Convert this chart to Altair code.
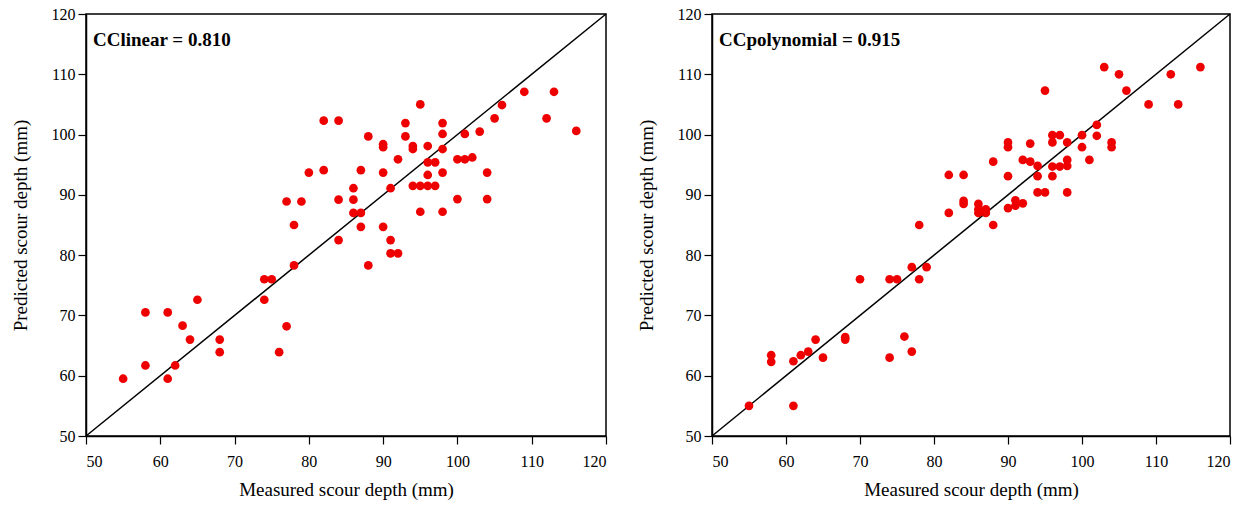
import altair as alt
import pandas as pd

# Left panel: linear model
lin_measured = [55, 58, 58, 61, 61, 62, 63, 64, 65, 68, 68, 74, 74, 75, 76, 77, 77, 78, 78, 79,
                80, 82, 82, 84, 84, 84, 86, 86, 86, 87, 87, 87, 88, 88, 90, 90, 90, 90, 91, 91,
                91, 92, 92, 93, 93, 94, 94, 94, 95, 95, 95, 96, 96, 96, 96, 97, 97, 98, 98, 98,
                98, 98, 100, 100, 101, 101, 102, 103, 104, 104, 105, 106, 109, 112, 113, 116]
lin_predicted = [59.5, 70.5, 61.7, 70.5, 59.5, 61.7, 68.3, 66.0, 72.6, 66.0, 63.9, 72.6, 76.0, 76.0, 63.9, 68.2, 88.9, 85.0, 78.3, 88.9,
                 93.7, 102.3, 94.1, 102.3, 89.2, 82.5, 91.1, 89.2, 87.0, 87.0, 94.1, 84.7, 99.7, 78.3, 98.4, 97.9, 93.7, 84.7, 91.1, 82.5,
                 80.3, 80.3, 95.9, 101.9, 99.7, 98.1, 97.6, 91.5, 105.0, 91.5, 87.2, 98.1, 95.4, 93.3, 91.5, 95.4, 91.5, 101.9, 100.1, 97.6,
                 93.7, 87.2, 95.9, 89.3, 100.1, 95.9, 96.2, 100.5, 93.7, 89.3, 102.7, 104.9, 107.1, 102.7, 107.1, 100.6]

# Right panel: polynomial model
poly_measured = [55, 58, 58, 61, 61, 62, 63, 64, 65, 68, 68, 70, 74, 74, 75, 76, 77, 77, 78, 78,
                 79, 82, 82, 84, 84, 84, 86, 86, 86, 87, 87, 88, 88, 90, 90, 90, 90, 91, 91, 92,
                 92, 93, 93, 94, 94, 94, 95, 95, 96, 96, 96, 96, 97, 97, 98, 98, 98, 98, 100, 100,
                 101, 102, 102, 103, 104, 104, 105, 106, 109, 112, 113, 116]
poly_predicted = [55.0, 63.4, 62.3, 55.0, 62.4, 63.4, 64.0, 66.0, 63.0, 66.4, 66.0, 76.0, 76.0, 63.0, 76.0, 66.5, 64.0, 78.0, 76.0, 85.0,
                  78.0, 93.3, 87.0, 93.3, 89.0, 88.5, 88.5, 87.6, 87.0, 87.6, 87.0, 95.5, 85.0, 98.7, 97.9, 93.1, 87.8, 89.1, 88.2, 88.6,
                  95.8, 95.5, 98.5, 94.8, 93.1, 90.4, 90.4, 107.3, 99.9, 98.7, 94.7, 93.1, 99.9, 94.7, 98.7, 95.8, 94.8, 90.4, 99.9, 97.9,
                  95.8, 101.6, 99.8, 111.2, 98.7, 97.9, 110.0, 107.3, 105.0, 110.0, 105.0, 111.2]

axis_ticks = [50, 60, 70, 80, 90, 100, 110, 120]
line_ends = [50, 120]

FONT = "Liberation Serif"


def panel(measured, predicted, label, w):
    df = pd.DataFrame({"Measured": measured, "Predicted": predicted})
    ldf = pd.DataFrame({"Measured": line_ends, "Predicted": line_ends})
    xs = alt.Scale(domain=[50, 120], nice=False, zero=False)
    ys = alt.Scale(domain=[50, 120], nice=False, zero=False)
    xax = alt.Axis(values=axis_ticks, title="Measured scour depth (mm)", grid=False,
                   labelPadding=9, titlePadding=11)
    yax = alt.Axis(values=axis_ticks, title="Predicted scour depth (mm)", grid=False,
                   labelPadding=3, titlePadding=21)
    pts = alt.Chart(df).mark_circle(size=76, color="#ee0000", opacity=1).encode(
        x=alt.X("Measured:Q", scale=xs, axis=xax),
        y=alt.Y("Predicted:Q", scale=ys, axis=yax),
    )
    ln = alt.Chart(ldf).mark_line(color="black", strokeWidth=1.5).encode(
        x=alt.X("Measured:Q", scale=xs),
        y=alt.Y("Predicted:Q", scale=ys),
    )
    txt = alt.Chart(pd.DataFrame({"t": [label]})).mark_text(
        align="left", baseline="middle", font=FONT, fontSize=19, fontWeight="bold", color="black"
    ).encode(text="t:N", x=alt.value(7), y=alt.value(26))
    return alt.layer(ln, pts, txt).properties(width=w, height=422)


left = panel(lin_measured, lin_predicted, "CClinear = 0.810", 520)
right = panel(poly_measured, poly_predicted, "CCpolynomial = 0.915", 518)

chart = alt.hconcat(left, right, spacing=106, bounds="flush").properties(
    background="white",
    padding={"left": 10, "top": 5, "right": 5, "bottom": 5},
).configure_axis(
    labelFont=FONT, titleFont=FONT, labelFontSize=16, titleFontSize=19,
    titleFontWeight="normal", labelColor="black", titleColor="black",
    domainColor="black", tickColor="black", tickSize=8,
    domainWidth=1.5, tickWidth=1.2,
).configure_view(stroke="black", strokeWidth=1.5)

chart.save("out.html", embed_options={"renderer": "svg", "actions": False})
